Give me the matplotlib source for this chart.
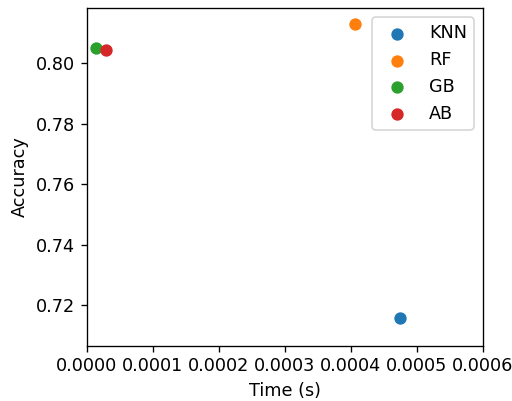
import matplotlib
matplotlib.use("Agg")
import matplotlib.pyplot as plt

models = ["KNN", "RF", "GB", "AB"]
times = [0.000474, 0.000407, 0.0000136, 0.0000292]
accuracy = [0.7155, 0.8130, 0.8050, 0.8045]

plt.rcParams["font.size"] = 10.6

fig = plt.figure(figsize=(512 / 120, 401 / 120), dpi=120)
ax = fig.add_axes([0.169, 0.138, 0.774, 0.841])

for name, t, acc in zip(models, times, accuracy):
    ax.scatter(t, acc, s=41, label=name)

ax.set_xlim(0, 0.0006)
ax.set_ylim(0.7065, 0.8182)
ax.set_xlabel("Time (s)")
ax.set_ylabel("Accuracy")
ax.legend(loc="upper right")

fig.savefig("out.png", dpi=120)
